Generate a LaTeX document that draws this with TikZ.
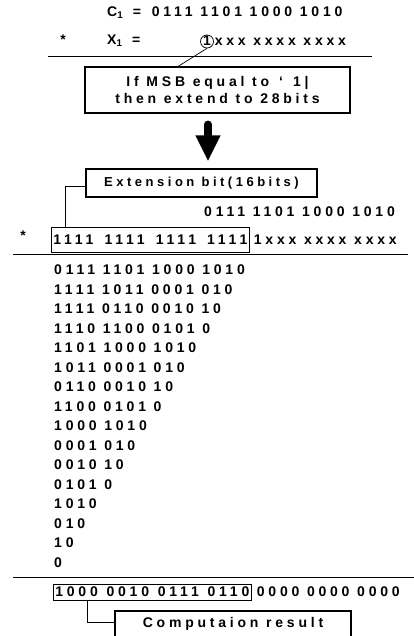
\documentclass[tikz,border=0pt]{standalone}
\usepackage{fontspec}
\setmainfont{Liberation Sans}[LetterSpace=27]
\usepackage{tikz}
\usetikzlibrary{positioning,arrows.meta}
\tikzset{every node/.style={font=\bfseries\fontsize{14}{17}\selectfont}}
\newcommand{\bitfield}[1]{\makebox[194pt][s]{#1}\hspace{2pt}}

\begin{document}
\begin{tikzpicture}[
x=1pt, y=-1pt,
txt/.style={inner sep=0pt, anchor=west},
labelbox/.style={draw, line width=1.1pt, inner sep=0pt, align=center},
bitbox/.style={draw, line width=0.7pt, inner xsep=2pt, inner ysep=0pt, anchor=west},
rule/.style={line width=1pt},
lead/.style={line width=0.7pt},
bigarrow/.style={line width=8pt, line cap=round, -{Triangle[length=26pt,width=23pt]}}
]
\useasboundingbox (0,0) rectangle (414,636);

\node[txt] (c1) at (107,13) {C\textsubscript{1}\hspace{2pt} = \hspace{3pt}0111 1101 1000 1010};
\node[inner sep=0pt] (star1) at (63,40) {*};
\node[txt] (x1) at (107,41) {X\textsubscript{1}\hspace{2pt} =};
\node[txt] (x1bits) at (203,41) {1xxx xxxx xxxx};
\node[circle, draw, line width=0.7pt, minimum size=13pt, inner sep=0pt] (msbring) at (207,41.5) {};

\coordinate (rule1w) at (48,57);
\coordinate (rule1e) at (372,57);
\draw[rule] (rule1w) -- (rule1e);

\node[labelbox, minimum width=265pt, minimum height=46pt] (msbbox) at (217.5,90)
{If MSB equal to \,‘ \,1| \\ then extend to 28bits};
\draw[lead] (msbring.south) -- ([xshift=-39.5pt]msbbox.north);

\node[labelbox, minimum width=231pt, minimum height=28pt, font=\bfseries\fontsize{13}{15}\selectfont] (extbox) at (201.5,183)
{Extension bit(16bits)};
\draw[bigarrow, shorten <=11pt, shorten >=7pt]
([xshift=-9.5pt]msbbox.south) -- ([xshift=-9.5pt]msbbox.south |- extbox.north);

\node[txt] (c1copy) at (204,212) {0111 1101 1000 1010};
\node[inner sep=0pt] (star2) at (23,236) {*};
\node[bitbox, minimum height=25pt] (signbox) at (51,239.5) {\bitfield{1111 1111 1111 1111}};
\node[txt, right=4pt of signbox] (x1copy) {1xxx xxxx xxxx};
\draw[lead] ([yshift=-3pt]extbox.west) -| ([xshift=14pt]signbox.north west);

\coordinate (rule2w) at (13,254);
\coordinate (rule2e) at (408,254);
\draw[rule] (rule2w) -- (rule2e);

\foreach \bits [count=\i] in {0111 1101 1000 1010, 1111 1011 0001 010,
  1111 0110 0010 10, 1110 1100 0101 0, 1101 1000 1010, 1011 0001 010,
  0110 0010 10, 1100 0101 0, 1000 1010, 0001 010, 0010 10, 0101 0,
  1010, 010, 10, 0}
  \node[txt] (row\i) at (54,{270+19.5*(\i-1)}) {\bits};

\coordinate (rule3w) at (13,577);
\coordinate (rule3e) at (414,577);
\draw[rule] (rule3w) -- (rule3e);

\node[bitbox, minimum height=16pt] (resbox) at (53,592) {\bitfield{1000 0010 0111 0110}};
\node[txt, right=5pt of resbox] (zeros) {0000 0000 0000};

\node[labelbox, minimum width=236pt, minimum height=26pt] (compbox) at (233,624)
{Computaion result};
\draw[lead] ([xshift=34pt]resbox.south west) |- ([yshift=2pt]compbox.west);
\end{tikzpicture}
\end{document}
